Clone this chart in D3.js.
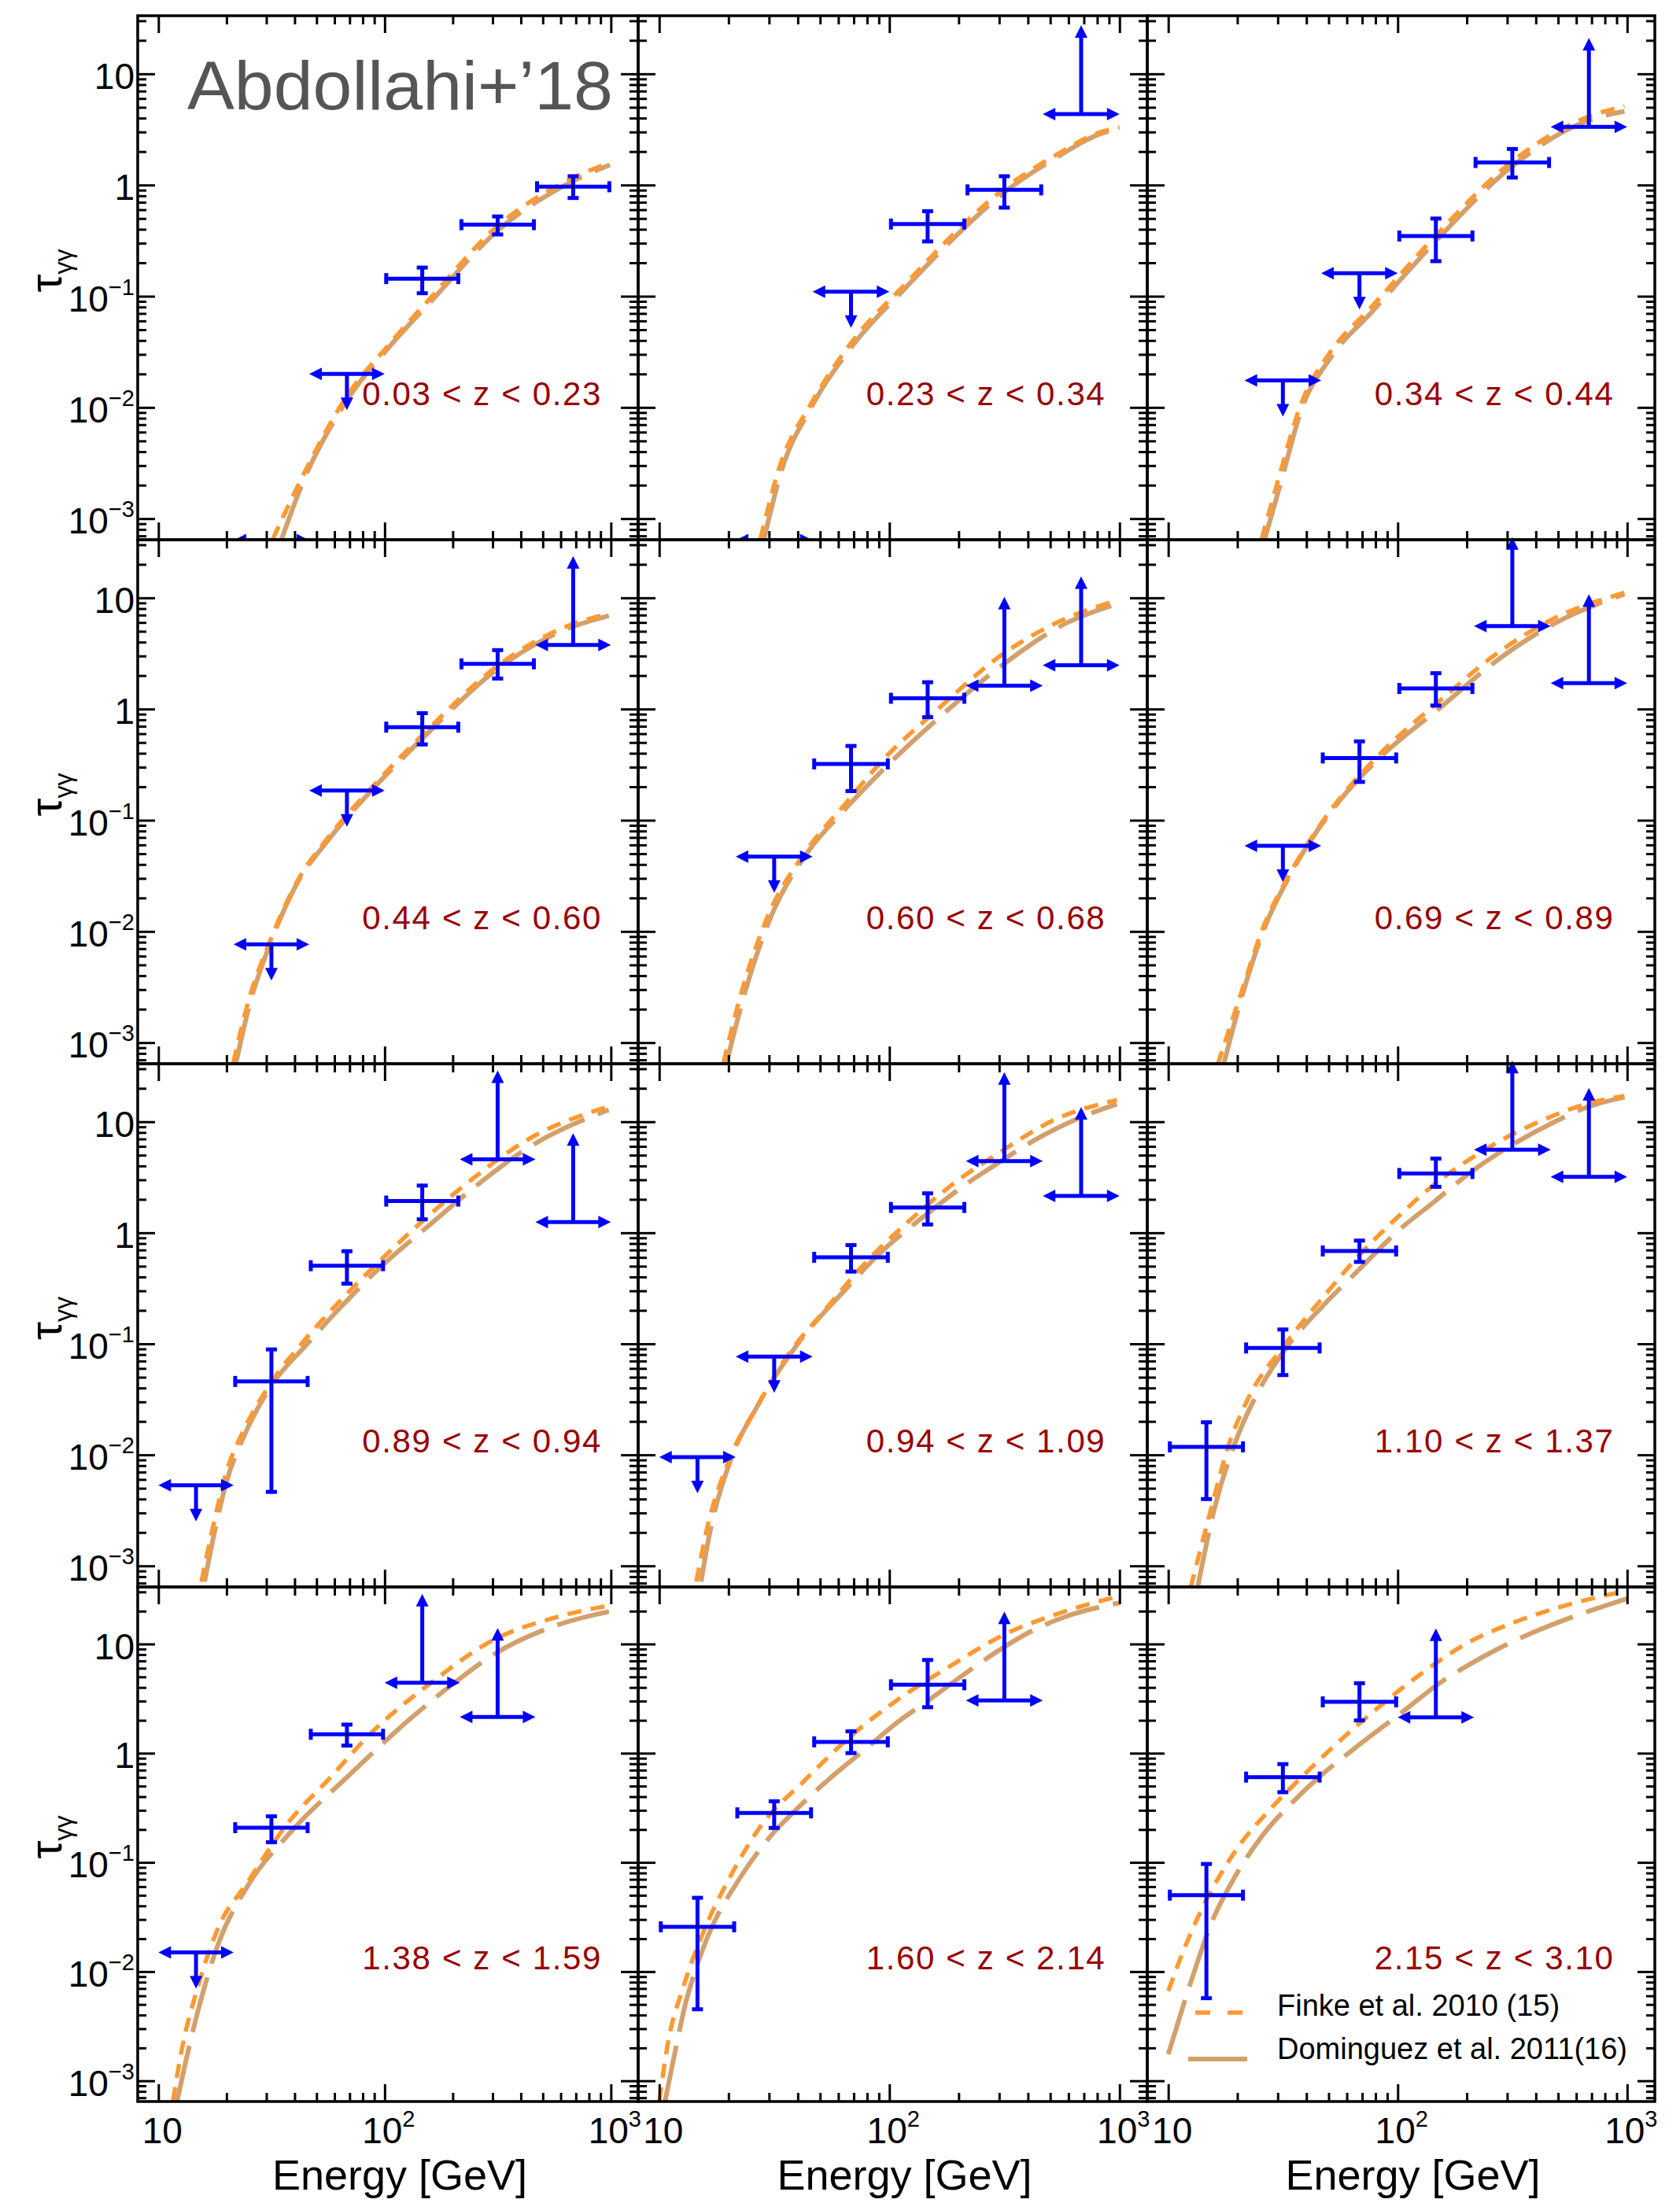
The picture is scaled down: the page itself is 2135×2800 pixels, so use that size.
<!DOCTYPE html>
<html>
<head>
<meta charset="utf-8">
<title>tau gamma gamma vs energy</title>
<script src="https://cdn.jsdelivr.net/npm/d3@7"></script>
<style>
  body { margin: 0; background: #fff; }
  svg { display: block; }
  text { font-family: "Liberation Sans", Arial, sans-serif; }
</style>
</head>
<body>
<script>
// one panel per redshift bin
var zLabels = ["0.03 < z < 0.23", "0.23 < z < 0.34", "0.34 < z < 0.44",
               "0.44 < z < 0.60", "0.60 < z < 0.68", "0.69 < z < 0.89",
               "0.89 < z < 0.94", "0.94 < z < 1.09", "1.10 < z < 1.37",
               "1.38 < z < 1.59", "1.60 < z < 2.14", "2.15 < z < 3.10"];

// energy bins (GeV)
var binEdges = [10, 21.5, 46.4, 100, 215, 464, 1000];

// detections : [bin, tau, tau low, tau high]
var detections = [
  [[3, 0.144, 0.103, 0.187], [4, 0.44, 0.348, 0.539], [5, 0.965, 0.74, 1.24]],
  [[3, 0.446, 0.301, 0.601], [4, 0.904, 0.606, 1.24]],
  [[3, 0.348, 0.2, 0.516], [4, 1.595, 1.13, 2.18]],
  [[3, 0.687, 0.465, 0.948], [4, 2.55, 1.82, 3.5]],
  [[2, 0.321, 0.177, 0.481], [3, 1.25, 0.817, 1.80]],
  [[2, 0.363, 0.214, 0.529], [3, 1.53, 1.04, 2.17]],
  [[1, 0.0458, 0.00449, 0.092], [2, 0.505, 0.337, 0.705], [3, 1.93, 1.28, 2.75]],
  [[2, 0.601, 0.433, 0.8], [3, 1.69, 1.15, 2.34]],
  [[0, 0.0118, 0.00387, 0.0203], [1, 0.0917, 0.0506, 0.139], [2, 0.686, 0.529, 0.878], [3, 3.42, 2.51, 4.81]],
  [[1, 0.208, 0.148, 0.273], [2, 1.49, 1.135, 1.89]],
  [[0, 0.0257, 0.00437, 0.049], [1, 0.284, 0.2, 0.375], [2, 1.27, 0.97, 1.64], [3, 4.23, 2.55, 7.38]],
  [[0, 0.0501, 0.00552, 0.1], [1, 0.604, 0.425, 0.821], [2, 2.95, 1.93, 4.52]]
];

// upper limits : [bin, tau]
var upperLimits = [
  [[1, 0.00064], [2, 0.020]],
  [[1, 0.00064], [2, 0.110]],
  [[1, 0.0175], [2, 0.161]],
  [[1, 0.00764], [2, 0.185]],
  [[1, 0.0471]],
  [[1, 0.0589]],
  [[0, 0.00533]],
  [[0, 0.00952], [1, 0.0767]],
  [],
  [[0, 0.015]],
  [],
  []
];

// lower limits : [bin, tau]
var lowerLimits = [
  [],
  [[5, 4.35]],
  [[5, 3.33]],
  [[5, 3.77]],
  [[4, 1.62], [5, 2.48]],
  [[4, 5.56], [5, 1.71]],
  [[4, 4.58], [5, 1.25]],
  [[4, 4.42], [5, 2.15]],
  [[4, 5.6], [5, 3.19]],
  [[3, 4.41], [4, 2.15]],
  [[4, 3.04]],
  [[3, 2.13]]
];

// Finke et al. 2010 model : [E GeV, tau]
var finke = [
  [[32, 0.00065], [42, 0.0021], [67, 0.012], [106, 0.038], [162, 0.10], [316, 0.43], [618, 1.05], [990, 1.6]],
  [[27.5, 0.00065], [33.3, 0.0029], [45.6, 0.0107], [69.5, 0.040], [118, 0.13], [214, 0.46], [316, 0.93], [516, 1.8], [830, 3.0], [1000, 3.3]],
  [[25.5, 0.00065], [29.9, 0.0021], [38.2, 0.0112], [50.6, 0.031], [76.9, 0.08], [150, 0.37], [312, 1.6], [675, 4.1], [973, 5.1]],
  [[21.4, 0.00065], [24.6, 0.0021], [31.6, 0.0088], [40.6, 0.027], [56.9, 0.072], [86.3, 0.19], [149, 0.6], [316, 2.45], [646, 5.6], [980, 7.2]],
  [[19.0, 0.00065], [22.5, 0.0026], [29.5, 0.0134], [42.8, 0.0505], [64.1, 0.139], [96.2, 0.369], [155, 0.914], [303, 3.0], [577, 6.44], [973, 9.46]],
  [[16.4, 0.00063], [20.4, 0.00249], [26.0, 0.011], [34.4, 0.035], [50.6, 0.12], [82.4, 0.382], [155, 1.22], [262, 3.01], [474, 6.43], [973, 11.1]],
  [[15.5, 0.00072], [17.1, 0.00188], [20.0, 0.00705], [23.7, 0.0163], [31.2, 0.0433], [45.5, 0.115], [64.1, 0.248], [96.6, 0.573], [156, 1.42], [244, 3.05], [437, 7.05], [977, 13.7]],
  [[14.5, 0.00072], [16.0, 0.00201], [20.3, 0.00933], [26.7, 0.0275], [36.1, 0.0783], [52.4, 0.201], [78.5, 0.533], [122, 1.28], [189, 2.75], [303, 5.33], [521, 10.4], [973, 15.7]],
  [[12.5, 0.00063], [15.1, 0.00284], [18.3, 0.0121], [22.6, 0.034], [31.8, 0.0951], [47.1, 0.26], [66.8, 0.603], [102, 1.44], [145, 2.75], [205, 4.57], [312, 7.6], [474, 11.3], [673, 14.6], [973, 17.1]],
  [[11.6, 0.00065], [12.6, 0.0018], [14.9, 0.0071], [18.4, 0.0253], [24.6, 0.0644], [37.4, 0.23], [56.9, 0.585], [86.3, 1.5], [162, 4.49], [303, 10.9], [568, 17.5], [980, 22.5]],
  [[10, 0.00065], [11.0, 0.00243], [12.6, 0.00678], [15.4, 0.0219], [20.1, 0.0707], [28.2, 0.228], [42.3, 0.548], [67.6, 1.42], [108, 3.06], [186, 6.37], [318, 12.3], [546, 19.1], [1000, 27.5]],
  [[10, 0.00664], [11.6, 0.0152], [13.7, 0.034], [16.8, 0.076], [20.6, 0.147], [26.9, 0.284], [37.7, 0.59], [56.4, 1.32], [84.5, 2.75], [126, 5.31], [203, 10.3], [325, 15.9], [557, 23.0], [1000, 30.8]]
];

// Dominguez et al. 2011 model : [E GeV, tau]
var dominguez = [
  [[35, 0.00065], [43, 0.002], [67, 0.011], [106, 0.036], [162, 0.092], [316, 0.39], [618, 0.98], [990, 1.52]],
  [[28.5, 0.00065], [34, 0.0027], [46, 0.0102], [70, 0.037], [118, 0.12], [214, 0.42], [316, 0.86], [516, 1.7], [830, 2.9], [1000, 3.2]],
  [[26.3, 0.00065], [30.5, 0.0019], [38.5, 0.0102], [51, 0.028], [77, 0.072], [150, 0.33], [312, 1.45], [675, 3.8], [973, 4.6]],
  [[22, 0.00065], [25, 0.002], [31.6, 0.0083], [40.6, 0.026], [56.9, 0.068], [86.3, 0.18], [149, 0.56], [316, 2.3], [646, 5.3], [980, 6.9]],
  [[19.6, 0.00065], [23.3, 0.0026], [30.5, 0.0134], [42.8, 0.0471], [64.1, 0.125], [96.2, 0.299], [155, 0.75], [303, 2.4], [577, 5.81], [973, 8.81]],
  [[17.4, 0.00063], [20.7, 0.0024], [26.0, 0.0102], [34.4, 0.0337], [54.2, 0.139], [82.4, 0.355], [155, 1.05], [262, 2.6], [474, 5.77], [973, 10.8]],
  [[16.0, 0.00072], [17.7, 0.00201], [20.0, 0.00573], [23.7, 0.0142], [31.2, 0.0404], [45.5, 0.1], [64.1, 0.215], [96.6, 0.498], [156, 1.15], [244, 2.48], [437, 5.93], [977, 12.8]],
  [[15.2, 0.00072], [16.6, 0.00201], [20.3, 0.00869], [26.7, 0.0275], [40.0, 0.1], [64.1, 0.305], [89.9, 0.64], [144, 1.45], [216, 2.75], [284, 4.0], [426, 6.8], [682, 11.0], [973, 14.4]],
  [[13.4, 0.00063], [15.9, 0.00328], [19.6, 0.013], [24.2, 0.0345], [31.8, 0.0853], [47.1, 0.219], [66.8, 0.451], [102, 1.07], [145, 1.92], [205, 3.43], [312, 6.11], [474, 9.8], [673, 13.6], [973, 16.6]],
  [[12.1, 0.00065], [14.3, 0.00303], [18.4, 0.018], [24.6, 0.0592], [37.4, 0.178], [70.1, 0.637], [131, 2.1], [200, 4.3], [303, 8.0], [568, 14.7], [980, 19.8]],
  [[10.6, 0.00065], [11.7, 0.00182], [13.0, 0.00506], [14.4, 0.0105], [16.4, 0.0219], [22.3, 0.0707], [30.2, 0.17], [39.4, 0.305], [55.3, 0.59], [77.4, 1.06], [108, 1.91], [152, 3.18], [212, 5.31], [298, 8.7], [417, 13.2], [583, 17.8], [1000, 23.8]],
  [[10, 0.00175], [12.5, 0.00785], [15.6, 0.0296], [18.8, 0.0643], [25.4, 0.17], [35.5, 0.37], [46.1, 0.62], [64.6, 1.1], [104, 2.35], [155, 4.5], [203, 6.4], [284, 9.4], [397, 13.0], [557, 17.2], [1000, 26.0]]
];

// axis ticks
var xMajor = [10, 100, 1000];
var xMinor = [20, 30, 40, 50, 60, 70, 80, 90, 200, 300, 400, 500, 600, 700, 800, 900];
var yMajor = [1e-3, 1e-2, 1e-1, 1, 10];
var xTickLabels = [["10", null], ["10", "2"], ["10", "3"]];
var yTickLabels = [["10", "\u22123"], ["10", "\u22122"], ["10", "\u22121"], ["1", null], ["10", null]];

var xDomain = [8.1, 1320];
var yDomain = [6.46e-4, 33.3];

// layout
var W = 2135, H = 2800;
var colX = [175, 811, 1458], colW = [636, 647, 645];
var rowY = [20, 686, 1352, 2017], rowH = [666, 666, 665, 654];
var labelDx = [-13, -19, -18];

var BLUE = "#0000ff", ORANGE = "#ff9933", TAN = "#d3a06c", DARKRED = "#990000";

var yMinor = [];
[-4, -3, -2, -1, 0, 1].forEach(function(p) {
  d3.range(2, 10).forEach(function(k) {
    var v = k * Math.pow(10, p);
    if (v > yDomain[0] && v < yDomain[1]) yMinor.push(v);
  });
});

var svg = d3.select("body").append("svg")
  .attr("width", W).attr("height", H);

svg.append("rect").attr("width", W).attr("height", H).attr("fill", "#fff");

// arrowhead triangle with tip at (tx,ty)
function arrow(tx, ty, dir) {
  var L = 16, hw = 8;
  if (dir == "l") return "M" + tx + "," + ty + "L" + (tx + L) + "," + (ty - hw) + "L" + (tx + L) + "," + (ty + hw) + "Z";
  if (dir == "r") return "M" + tx + "," + ty + "L" + (tx - L) + "," + (ty - hw) + "L" + (tx - L) + "," + (ty + hw) + "Z";
  if (dir == "u") return "M" + tx + "," + ty + "L" + (tx - hw) + "," + (ty + L) + "L" + (tx + hw) + "," + (ty + L) + "Z";
  return "M" + tx + "," + ty + "L" + (tx - hw) + "," + (ty - L) + "L" + (tx + hw) + "," + (ty - L) + "Z";
}

function seg(g, x1, y1, x2, y2, w) {
  g.append("line").attr("x1", x1).attr("y1", y1).attr("x2", x2).attr("y2", y2)
    .attr("stroke", BLUE).attr("stroke-width", w || 5);
}

function supText(sel, base, exp) {
  sel.append("tspan").text(base);
  if (exp) sel.append("tspan").attr("font-size", 29).attr("dy", -21).text(exp);
}

zLabels.forEach(function(label, i) {
  var c = i % 3, r = Math.floor(i / 3);
  var w = colW[c], h = rowH[r];
  var x = d3.scaleLog().domain(xDomain).range([0, w]);
  var y = d3.scaleLog().domain(yDomain).range([h, 0]);

  var g = svg.append("g").attr("transform", "translate(" + colX[c] + "," + rowY[r] + ")");

  g.append("clipPath").attr("id", "clip" + i)
    .append("rect").attr("x", 0).attr("y", -8).attr("width", w).attr("height", h + 8);
  var plot = g.append("g").attr("clip-path", "url(#clip" + i + ")");

  // model curves
  var line = d3.line()
    .x(function(d) { return x(d[0]); })
    .y(function(d) { return y(d[1]); })
    .curve(d3.curveMonotoneX);

  plot.append("path").datum(dominguez[i])
    .attr("d", line).attr("fill", "none")
    .attr("stroke", TAN).attr("stroke-width", 6)
    .attr("stroke-dasharray", "72,18");

  plot.append("path").datum(finke[i])
    .attr("d", line).attr("fill", "none")
    .attr("stroke", ORANGE).attr("stroke-width", 5.5)
    .attr("stroke-dasharray", "18,12");

  // detections with error bars
  detections[i].forEach(function(d) {
    var x0 = x(binEdges[d[0]]), x1 = x(binEdges[d[0] + 1]);
    var xc = x(Math.sqrt(binEdges[d[0]] * binEdges[d[0] + 1]));
    var yc = y(d[1]), ylo = y(d[2]), yhi = y(d[3]);
    seg(plot, x0, yc, x1, yc);
    seg(plot, x0 + 2, yc - 7, x0 + 2, yc + 7);
    seg(plot, x1 - 2, yc - 7, x1 - 2, yc + 7);
    seg(plot, xc, ylo, xc, yhi);
    seg(plot, xc - 7, ylo - 2, xc + 7, ylo - 2);
    seg(plot, xc - 7, yhi + 2, xc + 7, yhi + 2);
    plot.append("circle").attr("cx", xc).attr("cy", yc).attr("r", 1.6).attr("fill", "#000");
  });

  // limits
  function limit(d, up) {
    var x0 = x(binEdges[d[0]]), x1 = x(binEdges[d[0] + 1]);
    var xc = x(Math.sqrt(binEdges[d[0]] * binEdges[d[0] + 1]));
    var yc = y(d[1]);
    seg(plot, x0 + 12, yc, x1 - 12, yc);
    plot.append("path").attr("d", arrow(x0, yc, "l")).attr("fill", BLUE);
    plot.append("path").attr("d", arrow(x1, yc, "r")).attr("fill", BLUE);
    if (up) {
      seg(plot, xc, yc, xc, yc - 113 + 12);
      plot.append("path").attr("d", arrow(xc, yc - 113, "u")).attr("fill", BLUE);
    } else {
      seg(plot, xc, yc, xc, yc + 46 - 12);
      plot.append("path").attr("d", arrow(xc, yc + 46, "d")).attr("fill", BLUE);
    }
  }
  upperLimits[i].forEach(function(d) { limit(d, false); });
  lowerLimits[i].forEach(function(d) { limit(d, true); });

  // redshift label
  g.append("text")
    .attr("x", x(1000) + labelDx[c]).attr("y", y(0.01) - 3)
    .attr("text-anchor", "end").attr("font-size", 42)
    .attr("textLength", 303).attr("lengthAdjust", "spacing")
    .attr("fill", DARKRED).text(label);

  // ticks on all four sides, pointing inward
  function tickAxis(axis, tx, ty, vals, len) {
    var a = g.append("g").attr("transform", "translate(" + tx + "," + ty + ")")
      .call(axis.tickValues(vals).tickSize(-len).tickFormat(""));
    a.select(".domain").remove();
    a.selectAll("line").attr("stroke", "#000").attr("stroke-width", 3);
  }
  tickAxis(d3.axisLeft(y), 0, 0, yMajor, 22);
  tickAxis(d3.axisLeft(y), 0, 0, yMinor, 11);
  tickAxis(d3.axisRight(y), w, 0, yMajor, 22);
  tickAxis(d3.axisRight(y), w, 0, yMinor, 11);
  tickAxis(d3.axisBottom(x), 0, h, xMajor, 22);
  tickAxis(d3.axisBottom(x), 0, h, xMinor, 11);
  tickAxis(d3.axisTop(x), 0, 0, xMajor, 22);
  tickAxis(d3.axisTop(x), 0, 0, xMinor, 11);

  g.append("rect").attr("width", w).attr("height", h)
    .attr("fill", "none").attr("stroke", "#000").attr("stroke-width", 3.5);

  // y tick labels on the left column
  if (c == 0) {
    yMajor.forEach(function(v, k) {
      var t = g.append("text").attr("x", -4).attr("y", y(v) + 19)
        .attr("text-anchor", "end").attr("font-size", 46);
      supText(t, yTickLabels[k][0], yTickLabels[k][1]);
    });
    g.append("text")
      .attr("transform", "translate(-97," + (h / 2 - 9) + ") rotate(-90)")
      .attr("text-anchor", "middle").attr("font-size", 58)
      .call(function(t) {
        t.append("tspan").text("\u03c4");
        t.append("tspan").attr("font-size", 32).attr("dy", 13).text("\u03b3\u03b3");
      });
  }

  // x tick labels and title on the bottom row
  if (r == 3) {
    xMajor.forEach(function(v, k) {
      var t = g.append("text").attr("x", x(v) + 5).attr("y", h + 53)
        .attr("text-anchor", "middle").attr("font-size", 46);
      supText(t, xTickLabels[k][0], xTickLabels[k][1]);
    });
    g.append("text").attr("x", w / 2 + 15).attr("y", 2783 - rowY[r])
      .attr("text-anchor", "middle").attr("font-size", 54)
      .text("Energy [GeV]");
  }

  if (i == 0) {
    g.append("text").attr("x", 63).attr("y", 119)
      .attr("font-family", "Lato, 'Open Sans', sans-serif")
      .attr("font-size", 88).attr("fill", "#555")
      .attr("textLength", 541).attr("lengthAdjust", "spacingAndGlyphs")
      .text("Abdollahi+\u201918");
  }

  // legend in the last panel
  if (i == 11) {
    g.append("line").attr("x1", 61).attr("x2", 122).attr("y1", 541).attr("y2", 541)
      .attr("stroke", ORANGE).attr("stroke-width", 5.5).attr("stroke-dasharray", "19,22");
    g.append("text").attr("x", 165).attr("y", 545).attr("font-size", 38)
      .text("Finke et al. 2010 (15)");
    g.append("line").attr("x1", 52).attr("x2", 127).attr("y1", 600).attr("y2", 600)
      .attr("stroke", TAN).attr("stroke-width", 6);
    g.append("text").attr("x", 165).attr("y", 600).attr("font-size", 38)
      .text("Dominguez et al. 2011(16)");
  }
});
</script>
</body>
</html>
